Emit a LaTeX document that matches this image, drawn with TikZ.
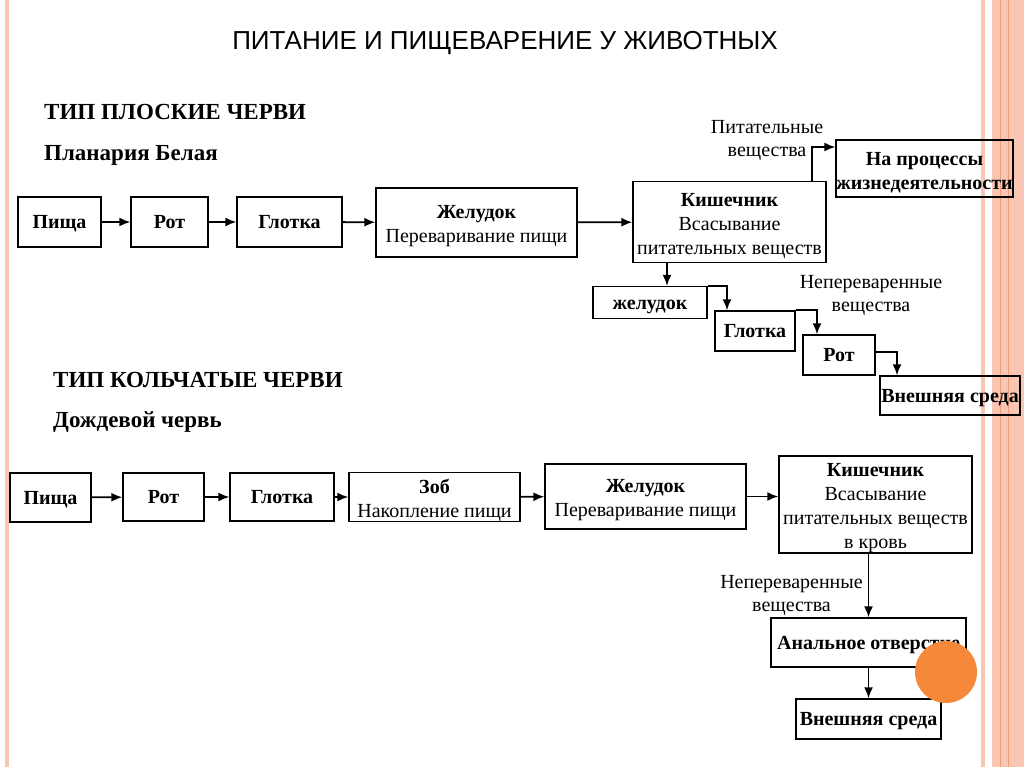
\documentclass[tikz,border=0pt]{standalone}
\usepackage{fontspec}
\setmainfont{Liberation Serif}
\newfontfamily\titlefont{Liberation Sans}
\usetikzlibrary{arrows.meta}

\definecolor{stripe}{HTML}{F9C6B4}
\definecolor{stripedark}{HTML}{EE9B7A}
\definecolor{dot}{HTML}{F6883A}
% taller first line, pushes box text a bit down
\newcommand{\firstline}{\rule{0pt}{21pt}}

\begin{document}
\begin{tikzpicture}[x=1pt, y=-1pt,
    box/.style={draw, line width=1.3pt, inner sep=0pt, align=center,
        font=\fontsize{20}{24}\selectfont},
    single/.style={text height=13.5pt, text depth=0pt},
    arr/.style={line width=1.8pt, -{Latex[length=11pt,width=9pt]}},
    lbl/.style={inner sep=0pt, align=center, font=\fontsize{20}{23}\selectfont},
    head/.style={inner sep=0pt, anchor=west, font=\fontsize{23}{26}\selectfont\bfseries}]
    \useasboundingbox (0,0) rectangle (1024,767);
    % page stripes
    \fill[stripe] (5,0) rectangle (9,767);
    \fill[stripe] (981,0) rectangle (985,767);
    \fill[stripe] (992,0) rectangle (1024,767);
    \draw[stripedark, line width=0.8pt] (1000,0) -- (1000,767);
    \draw[stripedark, line width=0.8pt] (1008,0) -- (1008,767);
    % titles
    \node[inner sep=0pt, font=\fontsize{26}{29}\titlefont] (title) at (505,43) {ПИТАНИЕ И ПИЩЕВАРЕНИЕ У ЖИВОТНЫХ};
    \node[head] (tip1) at (44,112) {ТИП ПЛОСКИЕ ЧЕРВИ};
    \node[head] (vid1) at (44,155) {Планария Белая};
    \node[head] (tip2) at (53,380) {ТИП КОЛЬЧАТЫЕ ЧЕРВИ};
    \node[head] (vid2) at (53,422) {Дождевой червь};
    % planaria
    \node[box, single, minimum width=83pt, minimum height=50pt] (pishcha1) at (59.5,222) {\textbf{Пища}};
    \node[box, single, minimum width=77pt, minimum height=50pt] (rot1) at (169.5,222) {\textbf{Рот}};
    \node[box, single, minimum width=105pt, minimum height=50pt] (glotka1) at (289.5,222) {\textbf{Глотка}};
    \node[box, minimum width=201pt, minimum height=69pt] (zhel1) at (476.5,222.5) {\firstline\textbf{Желудок}\\Переваривание пищи};
    \node[box, minimum width=193pt, minimum height=81pt] (kish1) at (729.5,222) {\firstline\textbf{Кишечник}\\Всасывание\\питательных веществ};
    \node[box, minimum width=177pt, minimum height=57pt] (proc) at (924.5,168.5) {\firstline\textbf{На процессы}\\\textbf{жизнедеятельности}};
    \node[box, single, minimum width=114pt, minimum height=32pt] (zhel1b) at (650,302.5) {\textbf{желудок}};
    \node[box, single, minimum width=80pt, minimum height=40pt] (glotka1b) at (755,331) {\textbf{Глотка}};
    \node[box, single, minimum width=72pt, minimum height=40pt] (rot1b) at (839,355) {\textbf{Рот}};
    \node[box, single, minimum width=140pt, minimum height=39pt] (sreda1) at (950,395.5) {\textbf{Внешняя среда}};
    \node[lbl] (pitlbl) at (767,140.5) {Питательные\\вещества};
    \node[lbl] (nepere1) at (871,295.5) {Непереваренные\\вещества};
    \draw[arr] (pishcha1) -- (rot1);
    \draw[arr] (rot1) -- (glotka1);
    \draw[arr] (glotka1) -- (zhel1);
    \draw[arr] (zhel1) -- (kish1);
    \draw[arr] ([xshift=82.5pt]kish1.north) |- ([yshift=21.5pt]proc.west);
    \draw[arr] ([xshift=-62.5pt]kish1.south) -- ([xshift=17pt]zhel1b.north);
    \draw[arr] (zhel1b.north east) -| ([xshift=-28pt]glotka1b.north);
    \draw[arr] (glotka1b.north east) -| ([xshift=-22pt]rot1b.north);
    \draw[arr] ([yshift=3pt]rot1b.east) -| ([xshift=-53pt]sreda1.north);
    % earthworm
    \node[box, single, minimum width=81pt, minimum height=49pt] (pishcha2) at (50.5,497.5) {\textbf{Пища}};
    \node[box, single, minimum width=81pt, minimum height=48pt] (rot2) at (163.5,497) {\textbf{Рот}};
    \node[box, single, minimum width=104pt, minimum height=48pt] (glotka2) at (282,497) {\textbf{Глотка}};
    \node[box, minimum width=171pt, minimum height=48pt] (zob) at (434.5,497) {\firstline\textbf{Зоб}\\Накопление пищи};
    \node[box, minimum width=201pt, minimum height=65pt] (zhel2) at (645.5,496.5) {\firstline\textbf{Желудок}\\Переваривание пищи};
    \node[box, minimum width=193pt, minimum height=97pt] (kish2) at (875.5,504.5) {\firstline\textbf{Кишечник}\\Всасывание\\питательных веществ\\в кровь};
    \node[box, single, minimum width=195pt, minimum height=49pt] (anal) at (868.5,642.5) {\textbf{Анальное отверстие}};
    \node[box, single, minimum width=145pt, minimum height=40pt] (sreda2) at (868.5,719) {\textbf{Внешняя среда}};
    \node[lbl] (nepere2) at (791.5,596) {Непереваренные\\вещества};
    \draw[arr] (pishcha2) -- (rot2);
    \draw[arr] (rot2) -- (glotka2);
    \draw[arr] (glotka2) -- (zob);
    \draw[arr] (zob) -- (zhel2);
    \draw[arr] (zhel2) -- (zhel2 -| kish2.west);
    \draw[arr] (kish2.south -| anal.north) -- (anal);
    \draw[arr] (anal) -- (sreda2);
    % slide dot
    \fill[dot] (946,672) circle (31);
\end{tikzpicture}
\end{document}
